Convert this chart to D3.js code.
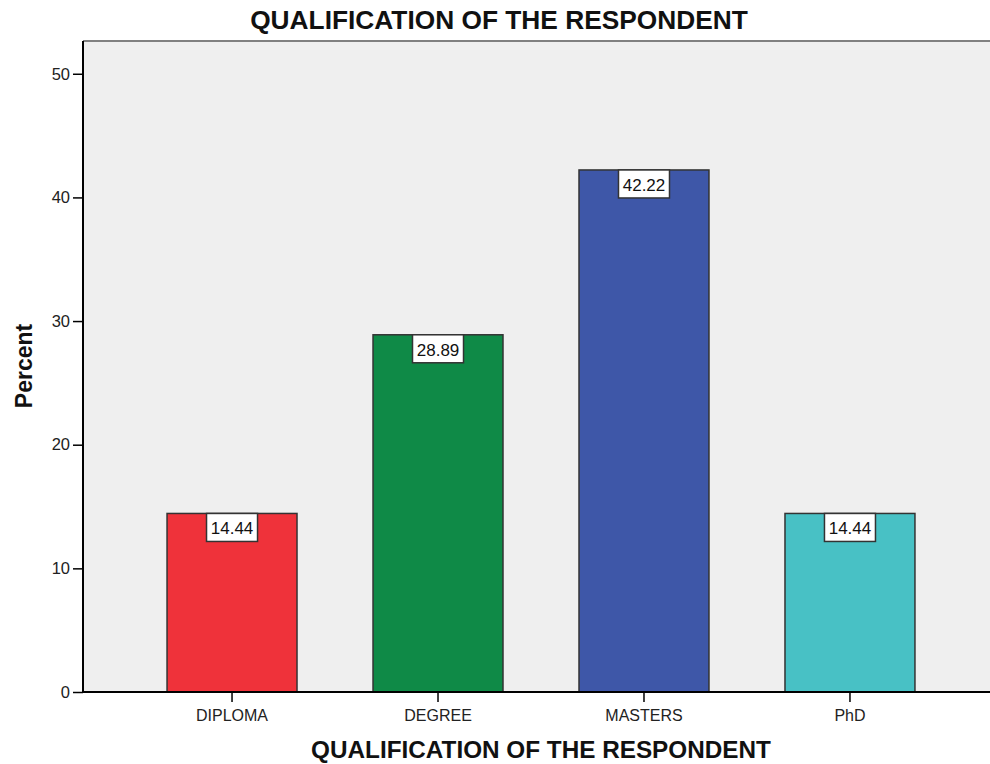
<!DOCTYPE html>
<html>
<head>
<meta charset="utf-8">
<script src="https://cdn.jsdelivr.net/npm/d3@7"></script>
<style>
  html, body { margin: 0; padding: 0; background: #fff; }
  svg { display: block; font-family: "Liberation Sans", Arial, sans-serif; }
</style>
</head>
<body>
<svg id="chart" width="990" height="764"></svg>
<script>
// Qualification categories and their share of respondents (percent)
const categories = ["DIPLOMA", "DEGREE", "MASTERS", "PhD"];
const percents = [14.44, 28.89, 42.22, 14.44];
const barColors = ["#EF323A", "#0F8A47", "#3E57A8", "#48C1C5"];
const yTicks = [0, 10, 20, 30, 40, 50];
const chartTitle = "QUALIFICATION OF THE RESPONDENT";
const xTitle = "QUALIFICATION OF THE RESPONDENT";
const yTitle = "Percent";

const svg = d3.select("#chart");
const plot = { left: 83, top: 41, right: 999, bottom: 692 };

const x = d3.scaleBand()
  .domain(categories)
  .range([plot.left, plot.right])
  .paddingInner(0.369)
  .paddingOuter(0.408);

const y = d3.scaleLinear()
  .domain([0, 52.65])
  .range([plot.bottom, plot.top]);

// plot background
svg.append("rect")
  .attr("x", plot.left).attr("y", plot.top)
  .attr("width", plot.right - plot.left)
  .attr("height", plot.bottom - plot.top)
  .attr("fill", "#EFEFEF");

// top frame line
svg.append("line")
  .attr("x1", plot.left).attr("x2", plot.right)
  .attr("y1", plot.top).attr("y2", plot.top)
  .attr("stroke", "#808080").attr("stroke-width", 2);

// bars
const data = categories.map((c, i) => ({ c, v: percents[i], color: barColors[i] }));
svg.append("g").selectAll("rect").data(data).join("rect")
  .attr("x", d => x(d.c))
  .attr("y", d => y(d.v))
  .attr("width", x.bandwidth())
  .attr("height", d => y(0) - y(d.v))
  .attr("fill", d => d.color)
  .attr("stroke", "#333")
  .attr("stroke-width", 1.5);

// value labels in boxes hanging from the top of each bar
const lab = svg.append("g").selectAll("g").data(data).join("g")
  .attr("transform", d => `translate(${x(d.c) + x.bandwidth() / 2},${y(d.v)})`);
lab.append("rect")
  .attr("x", -25.5).attr("y", 0)
  .attr("width", 51).attr("height", 28)
  .attr("fill", "#fff")
  .attr("stroke", "#333").attr("stroke-width", 1.5);
lab.append("text")
  .attr("x", 0).attr("y", 21)
  .attr("text-anchor", "middle")
  .attr("font-size", 17)
  .attr("fill", "#111")
  .text(d => d.v.toFixed(2));

// y axis
const yAxis = svg.append("g")
  .attr("transform", `translate(${plot.left},0)`)
  .call(d3.axisLeft(y).tickValues(yTicks).tickSize(10).tickPadding(3).tickSizeOuter(0));
yAxis.select(".domain").remove();
yAxis.selectAll(".tick line").attr("stroke", "#000").attr("stroke-width", 1.5);
yAxis.selectAll(".tick text")
  .attr("font-size", 16.5).attr("fill", "#222")
  .attr("font-family", "Liberation Sans, Arial, sans-serif");
svg.append("line")
  .attr("x1", plot.left).attr("x2", plot.left)
  .attr("y1", plot.top).attr("y2", plot.bottom)
  .attr("stroke", "#000").attr("stroke-width", 2);

// x axis
const xAxis = svg.append("g")
  .attr("transform", `translate(0,${plot.bottom})`)
  .call(d3.axisBottom(x).tickSize(10).tickPadding(8).tickSizeOuter(0));
xAxis.select(".domain").remove();
xAxis.selectAll(".tick line").attr("stroke", "#000").attr("stroke-width", 1.5);
xAxis.selectAll(".tick text")
  .attr("font-size", 16).attr("fill", "#222")
  .attr("font-family", "Liberation Sans, Arial, sans-serif");
svg.append("line")
  .attr("x1", plot.left).attr("x2", 990)
  .attr("y1", plot.bottom).attr("y2", plot.bottom)
  .attr("stroke", "#000").attr("stroke-width", 2);

// titles
svg.append("text")
  .attr("x", 499).attr("y", 29)
  .attr("text-anchor", "middle")
  .attr("font-size", 26.3).attr("font-weight", "bold")
  .attr("fill", "#111")
  .text(chartTitle);

svg.append("text")
  .attr("x", (plot.left + plot.right) / 2).attr("y", 758)
  .attr("text-anchor", "middle")
  .attr("font-size", 24.3).attr("font-weight", "bold")
  .attr("fill", "#111")
  .text(xTitle);

svg.append("text")
  .attr("transform", `translate(32,366) rotate(-90)`)
  .attr("text-anchor", "middle")
  .attr("font-size", 23).attr("font-weight", "bold")
  .attr("fill", "#111")
  .text(yTitle);
</script>
</body>
</html>
